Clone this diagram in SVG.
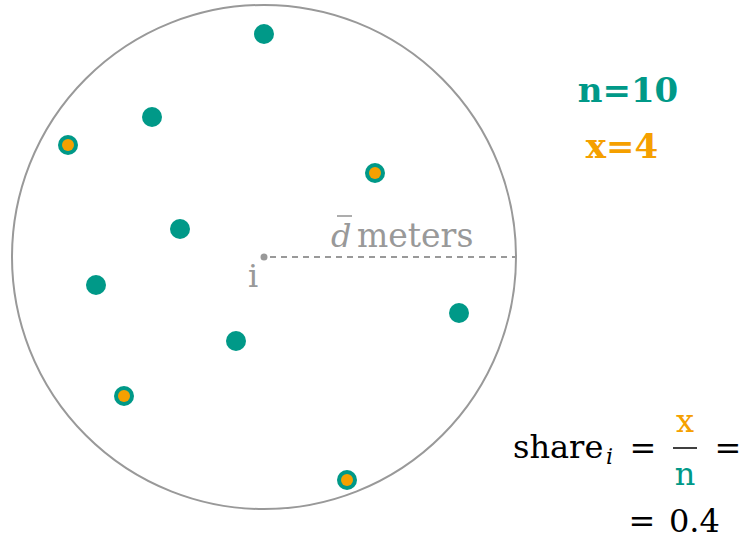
<svg xmlns="http://www.w3.org/2000/svg" width="743" height="543" viewBox="0 0 743 543">
<defs>
<style>
.dot{fill:#009988}
.inner{fill:#F5A000}
.gray{fill:#999999}
text{font-family:"DejaVu Serif",serif}
</style>
</defs>
<rect width="743" height="543" fill="#ffffff"/>
<g id="area">
<circle cx="264" cy="257" r="252" fill="none" stroke="#999999" stroke-width="2"/>
</g>
<g id="connectors">
<line x1="270" y1="257" x2="516" y2="257" stroke="#999999" stroke-width="2" stroke-dasharray="6,5"/>
</g>
<g id="center">
<circle cx="264" cy="257" r="3.5" class="gray"/>
<text x="253" y="287" class="gray" font-size="32" text-anchor="middle">i</text>
</g>
<g id="distance-label">
<text x="331" y="247" class="gray" font-size="32" font-style="italic">d</text>
<text x="357" y="247" class="gray" font-size="33">meters</text>
<line x1="337" y1="216" x2="352" y2="216" stroke="#999999" stroke-width="1.6"/>
</g>
<g id="points">
<circle cx="264" cy="34" r="10" class="dot"/>
<circle cx="152" cy="117" r="10" class="dot"/>
<circle cx="68" cy="145" r="10" class="dot"/><circle cx="68" cy="145" r="6" class="inner"/>
<circle cx="375" cy="173" r="10" class="dot"/><circle cx="375" cy="173" r="6" class="inner"/>
<circle cx="180" cy="229" r="10" class="dot"/>
<circle cx="96" cy="285" r="10" class="dot"/>
<circle cx="459" cy="313" r="10" class="dot"/>
<circle cx="236" cy="341" r="10" class="dot"/>
<circle cx="124" cy="396" r="10" class="dot"/><circle cx="124" cy="396" r="6" class="inner"/>
<circle cx="347" cy="480" r="10" class="dot"/><circle cx="347" cy="480" r="6" class="inner"/>
</g>
<g id="counts">
<text x="628" y="102" font-size="34" font-weight="bold" fill="#009988" text-anchor="middle">n=10</text>
<text x="622" y="158" font-size="34" font-weight="bold" fill="#F5A000" text-anchor="middle">x=4</text>
</g>
<g id="formula" font-size="32" fill="#000000">
<text x="513" y="458">share</text>
<text x="606" y="464" font-size="22" font-style="italic">i</text>
<text x="643" y="459" text-anchor="middle">=</text>
<text x="685" y="432" text-anchor="middle" fill="#F5A000">x</text>
<line x1="673" y1="448" x2="697" y2="448" stroke="#000000" stroke-width="1.5"/>
<text x="685" y="485" text-anchor="middle" fill="#009988">n</text>
<text x="728" y="459" text-anchor="middle">=</text>
<text x="642" y="532" text-anchor="middle">=</text>
<text x="669" y="532">0.4</text>
</g>
</svg>
